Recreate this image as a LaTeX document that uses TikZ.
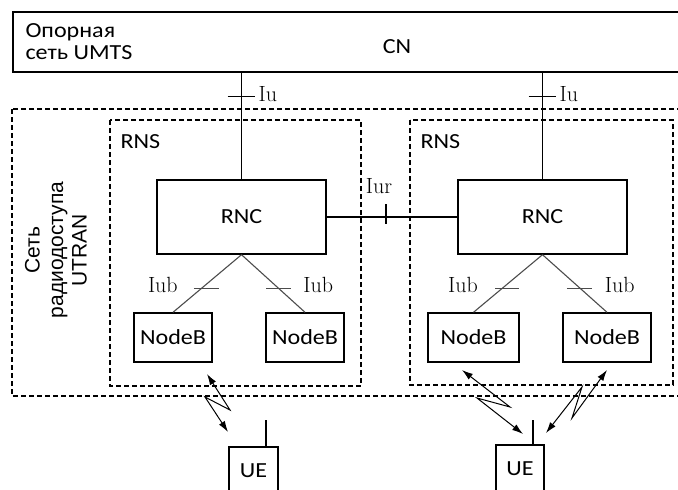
\documentclass[tikz,border=0pt]{standalone}
\usepackage{fontspec}
\newfontfamily\calib{Carlito}[FakeStretch=1.12]
\newfontfamily\arialf{Liberation Sans}
\usetikzlibrary{arrows.meta,calc}

\begin{document}
\begin{tikzpicture}[
  x=1pt, y=-1pt,
  box/.style={draw, line width=1.4pt, inner sep=0pt, font=\calib\fontsize{21.5}{24}\selectfont},
  zone/.style={draw, dash pattern=on 5pt off 3pt, line width=1.2pt},
  txt/.style={font=\calib\fontsize{21.5}{24}\selectfont},
  lbl/.style={font=\fontsize{22}{24}\selectfont\addfontfeature{FakeBold=0.6}},
  link/.style={line width=1.4pt},
  sublink/.style={line width=1.1pt, draw=black!70},
  radio/.style={line width=1pt, {Latex[length=11pt,width=7pt]}-{Latex[length=11pt,width=7pt]}},
]
\clip (0,0) rectangle (678,490);

% access network and subsystems
\draw [zone] (12,109) rectangle (700,396);
\draw [zone] (110,120) rectangle (361,386);
\draw [zone] (410,120) rectangle (673,385);

% core network
\node [box, minimum width=768pt, minimum height=60pt] (cn) at (397,42) {};
\node [txt, anchor=base west] (cnT1) at (22,37) {Опорная};
\node [txt, anchor=base west] (cnT2) at (22,59) {сеть UMTS};
\node [txt] (cnT3) at (397,47) {CN};

\node [rotate=90, align=center, font=\arialf\fontsize{21}{23.5}\selectfont] (utran) at (56,250) {Сеть\\радиодоступа\\UTRAN};
\node [txt, anchor=west] (rnsL) at (117,142) {RNS};
\node [txt, anchor=west] (rnsR) at (417,142) {RNS};

\node [box, minimum width=169pt, minimum height=74pt] (rncL) at (241.5,217) {RNC};
\node [box, minimum width=169pt, minimum height=74pt] (rncR) at (542.5,217) {RNC};

\node [box, minimum width=78pt, minimum height=49pt] (nbL1) at (173,337.5) {NodeB};
\node [box, minimum width=78pt, minimum height=49pt] (nbL2) at (305,337.5) {NodeB};
\node [box, minimum width=91pt, minimum height=49pt] (nbR1) at (473.5,337.5) {NodeB};
\node [box, minimum width=88pt, minimum height=49pt] (nbR2) at (607,337.5) {NodeB};

\node [box, minimum width=49pt, minimum height=48pt] (ueL) at (253.5,471) {UE};
\node [box, minimum width=48pt, minimum height=48pt] (ueR) at (520,469) {UE};

% Iu
\draw [link] (rncL.north) -- (rncL.north |- cn.south);
\draw [link] (rncR.north) -- (rncR.north |- cn.south);
\draw [link] ($(rncL.north |- cn.south)+(-14,24)$) -- ++(27,0) node [lbl, right, yshift=3pt] (iuL) {Iu};
\draw [link] ($(rncR.north |- cn.south)+(-14,24)$) -- ++(27,0) node [lbl, right, yshift=3pt] (iuR) {Iu};

% Iur
\draw [link] (rncL.east) -- (rncR.west);
\coordinate (iur) at ($(rncL.east)!0.4545!(rncR.west)$);
\draw [link] ([yshift=13pt]iur) -- ([yshift=-7pt]iur);
\node [lbl] (iurT) at ($(iur)+(-7,-31)$) {Iur};

% Iub
\draw [sublink] (rncL.south) -- (nbL1.north);
\draw [sublink] (rncL.south) -- (nbL2.north);
\draw [sublink] (rncR.south) -- (nbR1.north);
\draw [sublink] (rncR.south) -- (nbR2.north);
\coordinate (ubL1) at ($(rncL.south)!0.593!(nbL1.north)$);
\coordinate (ubL2) at ($(rncL.south)!0.593!(nbL2.north)$);
\coordinate (ubR1) at ($(rncR.south)!0.593!(nbR1.north)$);
\coordinate (ubR2) at ($(rncR.south)!0.593!(nbR2.north)$);
\draw [sublink] (ubL1) ++(-7,0) -- ++(25,0);
\draw [sublink] (ubL2) ++(-13,0) -- ++(25,0);
\draw [sublink] (ubR1) ++(-6.5,0) -- ++(24,0);
\draw [sublink] (ubR2) ++(-14,0) -- ++(25,0);
\node [lbl] (ubL1t) at ($(ubL1)+(-38,-3.5)$) {Iub};
\node [lbl] (ubL2t) at ($(ubL2)+(39,-3.5)$) {Iub};
\node [lbl] (ubR1t) at ($(ubR1)+(-38.5,-3.5)$) {Iub};
\node [lbl] (ubR2t) at ($(ubR2)+(39,-3.5)$) {Iub};

% antennas
\draw [link] ([xshift=12.5pt]ueL.north) -- ++(0,-26);
\draw [link] ([xshift=13pt]ueR.north) -- ++(0,-24);

% radio links
\coordinate (rL1) at (207,374);
\coordinate (rL2) at (228,432);
\coordinate (rR1) at (462,370);
\coordinate (rR2) at (523,434);
\coordinate (rS1) at (607,370);
\coordinate (rS2) at (546,433);
\draw [radio] (rL1) -- (230,410) -- (205,397) -- (rL2);
\draw [radio] (rR1) -- (510,407) -- (477,398) -- (rR2);
\draw [radio] (rS1) -- (572,418) -- (582,387) -- (rS2);

\end{tikzpicture}
\end{document}
